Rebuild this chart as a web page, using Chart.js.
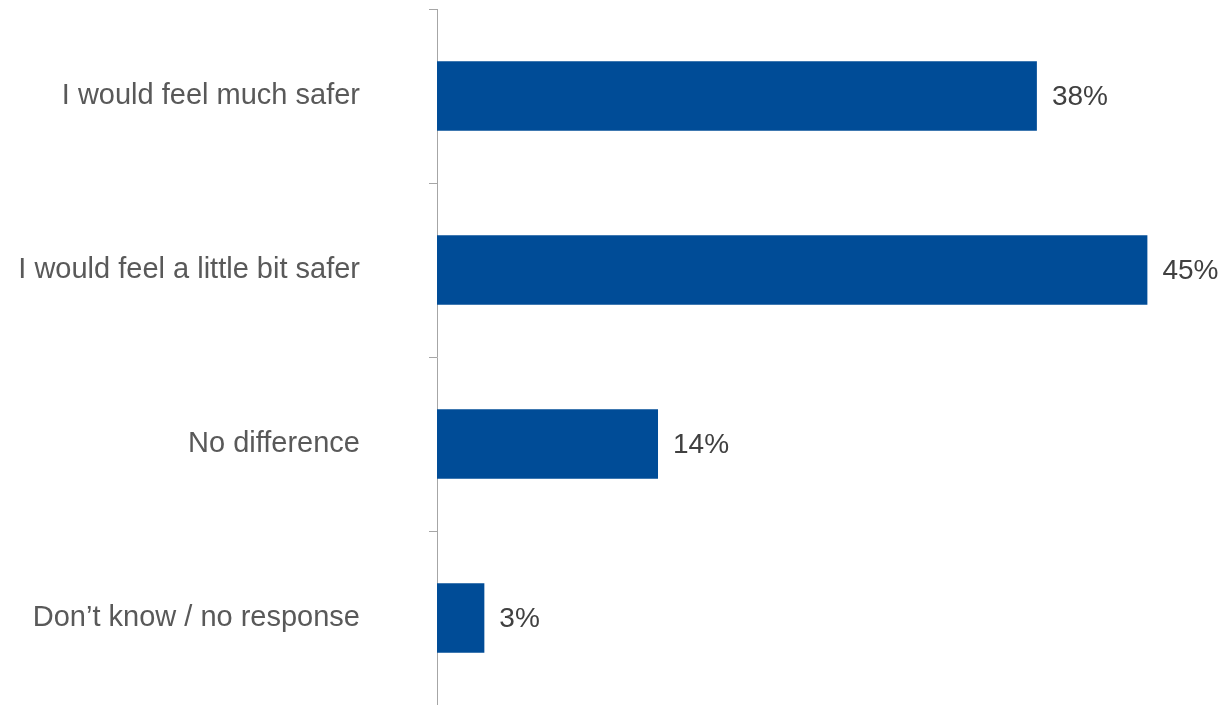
<!DOCTYPE html>
<html>
<head>
<meta charset="utf-8">
<script src="https://cdn.jsdelivr.net/npm/chart.js@4.4.0/dist/chart.umd.min.js"></script>
<style>
  html, body { margin: 0; padding: 0; background: #fff; }
  #wrap { width: 1220px; height: 705px; position: relative; }
</style>
</head>
<body>
<div id="wrap"><canvas id="chart"></canvas></div>
<script>
// data
const categories = [
    'I would feel much safer',
    'I would feel a little bit safer',
    'No difference',
    'Don\u2019t know / no response'
];
const shares = [38, 45, 14, 3];

const FONT = '"Liberation Sans", Arial, sans-serif';

// value labels to the right of each bar
const valueLabels = {
    id: 'valueLabels',
    afterDatasetsDraw(chart) {
        const ctx = chart.ctx;
        const meta = chart.getDatasetMeta(0);
        ctx.save();
        ctx.font = '28px ' + FONT;
        ctx.fillStyle = '#404040';
        ctx.textAlign = 'left';
        ctx.textBaseline = 'middle';
        meta.data.forEach((bar, i) => {
            ctx.fillText(shares[i] + '%', bar.x + 15, bar.y + 1);
        });
        ctx.restore();
    }
};

new Chart(document.getElementById('chart'), {
    type: 'bar',
    data: {
        labels: categories,
        datasets: [{
            data: shares,
            backgroundColor: '#004C97',
            borderWidth: 0,
            barPercentage: 0.8,
            categoryPercentage: 0.5
        }]
    },
    options: {
        indexAxis: 'y',
        responsive: true,
        maintainAspectRatio: false,
        animation: false,
        layout: { padding: { top: 9, bottom: 0, left: 0, right: 0 } },
        plugins: {
            legend: { display: false },
            tooltip: { enabled: false }
        },
        scales: {
            x: {
                display: false,
                min: 0,
                max: 49.6
            },
            y: {
                position: 'left',
                afterFit: scale => {
                    // fixed axis width, no extra vertical padding from label padding
                    scale.width = 437;
                    scale.paddingTop = 0;
                    scale.paddingBottom = 0;
                },
                border: { display: true, color: '#a6a6a6', width: 1 },
                grid: {
                    display: true,
                    drawOnChartArea: false,
                    drawTicks: true,
                    tickLength: 8,
                    color: '#a6a6a6'
                },
                ticks: {
                    color: '#595959',
                    padding: 69,
                    font: { family: FONT, size: 29 }
                }
            }
        }
    },
    plugins: [valueLabels]
});
</script>
</body>
</html>
